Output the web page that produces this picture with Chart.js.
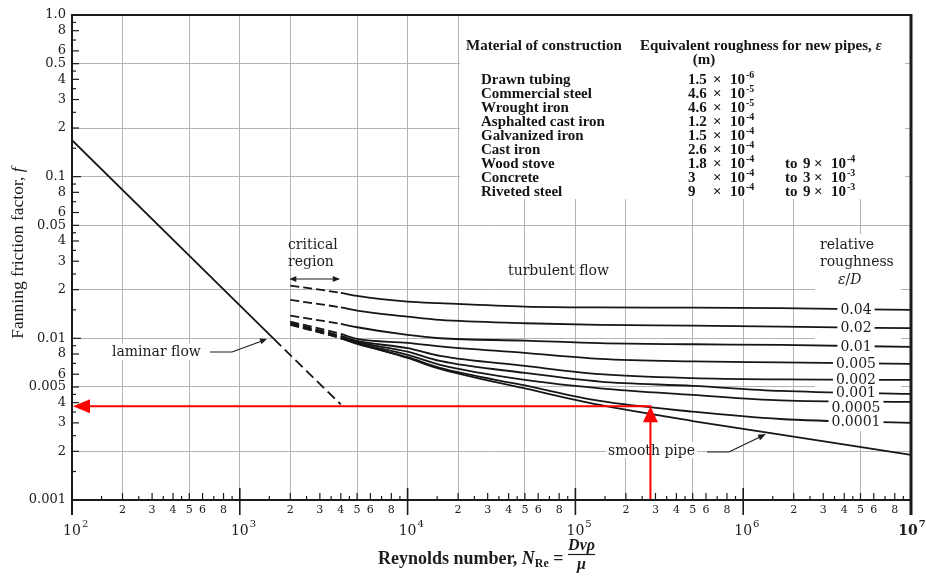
<!DOCTYPE html>
<html>
<head>
<meta charset="utf-8">
<title>Fanning friction factor</title>
<script src="https://cdn.jsdelivr.net/npm/chart.js@4.4.1/dist/chart.umd.min.js"></script>
<style>
  html, body { margin: 0; padding: 0; background: #fff; }
  #wrap { width: 927px; height: 577px; }
</style>
</head>
<body>
<div id="wrap"><canvas id="chart" width="927" height="577"></canvas></div>
<script>
// ---- data ----
const reCurve = [2000, 4000, 5000, 1e4, 1.56e4, 5e4, 1.4e5, 5e5, 1.67e6, 1e7];
const f0040  = [0.02118, 0.01910, 0.01829, 0.01687, 0.01649, 0.01570, 0.01552, 0.01548, 0.01536, 0.01498];
const f0020  = [0.01728, 0.01553, 0.01484, 0.01362, 0.01299, 0.01240, 0.01210, 0.01198, 0.01181, 0.01155];
const f0010  = [0.01381, 0.01227, 0.01171, 0.01049, 0.01001, 0.00968, 0.00933, 0.00919, 0.00910, 0.00885];
const f0005  = [0.01268, 0.01064, 0.00992, 0.00937, 0.00891, 0.00812, 0.00746, 0.00720, 0.00710, 0.00695];
const f0002  = [0.01245, 0.01035, 0.00964, 0.00869, 0.00778, 0.00675, 0.00600, 0.00567, 0.00557, 0.00553];
const f0001  = [0.01227, 0.01020, 0.00950, 0.00827, 0.00725, 0.00611, 0.00540, 0.00508, 0.00473, 0.00453];
const f00005 = [0.01219, 0.01006, 0.00937, 0.00790, 0.00685, 0.00553, 0.00491, 0.00447, 0.00413, 0.00404];
const f00001 = [0.01210, 0.00999, 0.00923, 0.00764, 0.00656, 0.00511, 0.00410, 0.00352, 0.00317, 0.00300];
const roughLabels = ['0.04', '0.02', '0.01', '0.005', '0.002', '0.001', '0.0005', '0.0001'];
const roughCurves = [f0040, f0020, f0010, f0005, f0002, f0001, f00005, f00001];

const reSmooth = [4000, 1e4, 1.56e4, 5e4, 1.4e5, 5e5, 1.67e6, 1e7];
const fSmooth  = [0.00998, 0.00756, 0.00647, 0.00490, 0.00387, 0.00308, 0.00254, 0.00190];

const reLaminar = [100, 1600, 4000];
const fLaminar  = [0.168, 0.0099, 0.0039];

const criticalEnd = 4000;   // dashed part of the curves ends here
const labelRe = 4.7e6;      // where the roughness labels sit
const readRe = 2.8e5;       // red reading arrows
const readF = 0.0038;

// tick layout
const xDecades = [100, 1e3, 1e4, 1e5, 1e6, 1e7];
const yDecades = [0.001, 0.01, 0.1, 1];
const tickMant = [1, 1.5, 2, 2.5, 3, 3.5, 4, 4.5, 5, 6, 7, 8, 9];
const labeledMant = [2, 3, 4, 5, 6, 8];
const gridMant = [1, 2, 5];

// table
const materials = ['Drawn tubing', 'Commercial steel', 'Wrought iron', 'Asphalted cast iron',
  'Galvanized iron', 'Cast iron', 'Wood stove', 'Concrete', 'Riveted steel'];
const roughMant = ['1.5', '4.6', '4.6', '1.2', '1.5', '2.6', '1.8', '3', '9'];
const roughExp  = [-6, -5, -5, -4, -4, -4, -4, -4, -4];
const roughToMant = [null, null, null, null, null, null, '9', '3', '9'];
const roughToExp  = [null, null, null, null, null, null, -4, -3, -3];

// ---- helpers ----
function mant(v) {
  const e = Math.floor(Math.log10(v) + 1e-9);
  return Math.round(v / Math.pow(10, e) * 10) / 10;
}
function tickList(decades) {
  const out = [];
  for (let i = 0; i < decades.length - 1; i++) {
    tickMant.forEach(m => out.push(m * decades[i]));
  }
  out.push(decades[decades.length - 1]);
  return out;
}
function fAt(res, fs, re) {
  for (let i = 0; i < res.length - 1; i++) {
    if (re >= res[i] && re <= res[i + 1]) {
      const t = (Math.log10(re) - Math.log10(res[i])) / (Math.log10(res[i + 1]) - Math.log10(res[i]));
      return Math.pow(10, Math.log10(fs[i]) + t * (Math.log10(fs[i + 1]) - Math.log10(fs[i])));
    }
  }
  return fs[fs.length - 1];
}
function txt(ctx, s, x, y, font, align) {
  ctx.font = font;
  ctx.textAlign = align || 'left';
  ctx.fillText(s, x, y);
  return ctx.measureText(s).width;
}
function rich(ctx, parts, x, y) {
  let cx = x;
  parts.forEach(p => {
    ctx.font = p.font;
    ctx.textAlign = 'left';
    ctx.fillText(p.t, cx, y + (p.dy || 0));
    cx += ctx.measureText(p.t).width;
  });
  return cx;
}
function richWidth(ctx, parts) {
  let w = 0;
  parts.forEach(p => { ctx.font = p.font; w += ctx.measureText(p.t).width; });
  return w;
}
function head(ctx, tx, ty, ang, len, half) {
  const c = Math.cos(ang), s = Math.sin(ang);
  ctx.beginPath();
  ctx.moveTo(tx, ty);
  ctx.lineTo(tx - len * c + half * s, ty - len * s - half * c);
  ctx.lineTo(tx - len * c - half * s, ty - len * s + half * c);
  ctx.closePath();
  ctx.fill();
}
function seg(ctx, x1, y1, x2, y2) {
  ctx.beginPath(); ctx.moveTo(x1, y1); ctx.lineTo(x2, y2); ctx.stroke();
}

const SERIF = '"DejaVu Serif"';
const TIMES = '"Liberation Serif"';
const ANNO = '14px ' + SERIF;
const TB = 'bold 15px ' + TIMES;
const INK = '#1c1c1c';

function powTen(ctx, x, y, e) {
  txt(ctx, '\u00d7', x, y, TB);
  const w = txt(ctx, '10', x + 17, y, TB);
  txt(ctx, '-' + Math.abs(e), x + 18 + w, y - 5, 'bold 10px ' + TIMES);
}

// ---- drawing plugin: table, labels, notes, frame ----
const notes = {
  id: 'notes',
  beforeDatasetsDraw(chart) {
    const ctx = chart.ctx;
    ctx.save();
    ctx.fillStyle = '#fff';
    ctx.fillRect(460, 16, 445, 183);     // materials table
    ctx.fillRect(815, 234, 86, 197);     // roughness label column
    ctx.restore();
  },
  afterDatasetsDraw(chart) {
    const ctx = chart.ctx;
    const xs = chart.scales.x, ys = chart.scales.y;
    const {left, right, top, bottom} = chart.chartArea;
    ctx.save();
    ctx.textBaseline = 'middle';

    // roughness labels sitting on their curves: gaps first, then text
    const lx = xs.getPixelForValue(labelRe);
    ctx.font = ANNO;
    const spots = roughLabels.map((lab, i) => {
      const lineY = ys.getPixelForValue(fAt(reCurve, roughCurves[i], labelRe));
      const ty = lab === '0.0005' ? lineY + 6 : lineY;
      return {lab, lineY, ty, w: ctx.measureText(lab).width};
    });
    ctx.fillStyle = '#fff';
    spots.forEach(s => {
      const y1 = s.ty > s.lineY ? s.lineY - 2 : s.lineY - 6;
      const y2 = s.ty + 6;
      ctx.fillRect(lx - s.w / 2 - 3, y1, s.w + 6, y2 - y1);
    });
    ctx.fillStyle = INK;
    spots.forEach(s => txt(ctx, s.lab, lx, s.ty + 1, ANNO, 'center'));

    ctx.strokeStyle = INK;
    ctx.lineWidth = 1.2;

    // relative roughness heading
    txt(ctx, 'relative', 820, 245, ANNO);
    txt(ctx, 'roughness', 820, 262, ANNO);
    rich(ctx, [{t: '\u03b5', font: 'italic 14px ' + SERIF}, {t: '/', font: ANNO},
      {t: 'D', font: 'italic 14px ' + SERIF}], 838, 280);

    // critical region
    txt(ctx, 'critical', 288, 245, ANNO);
    txt(ctx, 'region', 288, 262, ANNO);
    const cx1 = xs.getPixelForValue(2000), cx2 = xs.getPixelForValue(criticalEnd);
    seg(ctx, cx1 + 2, 279, cx2 - 2, 279);
    head(ctx, cx1 - 1, 279, Math.PI, 7, 3);
    head(ctx, cx2 - 1, 279, 0, 7, 3);

    txt(ctx, 'turbulent flow', 508, 271, ANNO);

    // laminar flow note
    ctx.font = ANNO;
    let w = ctx.measureText('laminar flow').width;
    ctx.fillStyle = '#fff';
    ctx.fillRect(110, 344, w + 4, 16);
    ctx.fillStyle = INK;
    txt(ctx, 'laminar flow', 112, 352, ANNO);
    ctx.beginPath();
    ctx.moveTo(210, 352); ctx.lineTo(232, 352); ctx.lineTo(262, 341);
    ctx.stroke();
    head(ctx, 267, 339, Math.atan2(-11, 30), 7, 3);

    // smooth pipe note
    w = ctx.measureText('smooth pipe').width;
    ctx.fillStyle = '#fff';
    ctx.fillRect(606, 442, w + 4, 16);
    ctx.fillStyle = INK;
    txt(ctx, 'smooth pipe', 608, 451, ANNO);
    ctx.beginPath();
    ctx.moveTo(707, 452); ctx.lineTo(729, 452); ctx.lineTo(760, 437);
    ctx.stroke();
    head(ctx, 766, 434, Math.atan2(-15, 31), 8, 3);

    // materials table
    ctx.fillStyle = '#151515';
    txt(ctx, 'Material of construction', 466, 46, TB);
    const hw = txt(ctx, 'Equivalent roughness for new pipes, ', 640, 46, TB);
    txt(ctx, '\u03b5', 640 + hw, 46, 'bold italic 15px ' + TIMES);
    txt(ctx, '(m)', 704, 60, TB, 'center');
    materials.forEach((m, i) => {
      const y = 80 + i * 14;
      txt(ctx, m, 481, y, TB);
      txt(ctx, roughMant[i], 688, y, TB);
      powTen(ctx, 713, y, roughExp[i]);
      if (roughToMant[i]) {
        txt(ctx, 'to', 785, y, TB);
        txt(ctx, roughToMant[i], 803, y, TB);
        powTen(ctx, 814, y, roughToExp[i]);
      }
    });

    // red reading arrows
    const rx = xs.getPixelForValue(readRe), ry = ys.getPixelForValue(readF);
    ctx.strokeStyle = '#ff0000';
    ctx.fillStyle = '#ff0000';
    ctx.lineWidth = 2;
    seg(ctx, rx + 1, ry, left + 16, ry);
    head(ctx, left + 1, ry, Math.PI, 17, 7);
    seg(ctx, rx, bottom + 1, rx, ry + 15);
    head(ctx, rx, ry, -Math.PI / 2, 16, 7.5);

    // frame
    ctx.strokeStyle = '#1a1a1a';
    ctx.lineWidth = 2;
    seg(ctx, left - 1, top, right + 1, top);
    seg(ctx, left - 1, bottom, right + 1, bottom);
    seg(ctx, left, top - 1, left, bottom + 15);
    ctx.lineWidth = 3;
    seg(ctx, right, top - 1, right, bottom + 15);

    // inward ticks
    ctx.lineWidth = 1.2;
    xs.ticks.forEach(t => {
      const x = xs.getPixelForValue(t.value), m = mant(t.value);
      if (m === 1) { ctx.lineWidth = 1.6; seg(ctx, x, bottom - 12, x, bottom + 15); ctx.lineWidth = 1.2; }
      else if (labeledMant.includes(m)) seg(ctx, x, bottom - 7, x, bottom);
      else seg(ctx, x, bottom - 4, x, bottom);
    });
    ys.ticks.forEach(t => {
      const y = ys.getPixelForValue(t.value), m = mant(t.value);
      if (m === 1) seg(ctx, left, y, left + 9, y);
      else if (labeledMant.includes(m)) seg(ctx, left, y, left + 7, y);
      else seg(ctx, left, y, left + 4, y);
    });

    // decade labels under the x axis
    ctx.fillStyle = INK;
    xDecades.forEach(d => {
      const last = d === xDecades[xDecades.length - 1];
      const x = xs.getPixelForValue(d) - (last ? 3 : 0);
      const e = Math.round(Math.log10(d));
      const bw = txt(ctx, '10', x, 531, (last ? 'bold 14px ' : '14px ') + SERIF, 'center');
      txt(ctx, String(e), x + bw / 2 + 1, 524, (last ? 'bold 10px ' : '10px ') + SERIF);
    });

    // x axis title
    const tf = 'bold 18px ' + TIMES;
    const ex = rich(ctx, [
      {t: 'Reynolds number, ', font: tf},
      {t: 'N', font: 'bold italic 18px ' + TIMES},
      {t: 'Re', font: 'bold 12px ' + TIMES, dy: 5},
      {t: ' = ', font: tf}
    ], 378, 559);
    const num = [{t: 'Dv\u03c1', font: 'bold italic 16px ' + TIMES}];
    const nw = richWidth(ctx, num);
    rich(ctx, num, ex, 546);
    ctx.strokeStyle = INK;
    ctx.lineWidth = 1.2;
    seg(ctx, ex, 554.5, ex + nw, 554.5);
    txt(ctx, '\u03bc', ex + nw / 2, 565, 'bold italic 16px ' + TIMES, 'center');

    // y axis title
    ctx.translate(18, 253);
    ctx.rotate(-Math.PI / 2);
    const yt = [{t: 'Fanning friction factor, ', font: '17.5px ' + TIMES},
      {t: 'f', font: 'italic 17.5px ' + TIMES}];
    rich(ctx, yt, -richWidth(ctx, yt) / 2, 0);
    ctx.restore();
  }
};

// ---- datasets ----
const dashAfter = (limit) => ({ borderDash: c => (c.p1.parsed.x <= limit ? [9, 4] : undefined) });

const datasets = roughCurves.map((arr, i) => ({
  label: '\u03b5/D = ' + roughLabels[i],
  data: reCurve.map((re, j) => ({x: re, y: arr[j]})),
  showLine: true,
  borderColor: '#161616',
  borderWidth: 1.8,
  pointRadius: 0,
  cubicInterpolationMode: 'monotone',
  segment: dashAfter(criticalEnd)
}));
datasets.push({
  label: 'smooth pipe',
  data: reSmooth.map((re, j) => ({x: re, y: fSmooth[j]})),
  showLine: true,
  borderColor: '#161616',
  borderWidth: 1.8,
  pointRadius: 0,
  cubicInterpolationMode: 'monotone'
});
datasets.push({
  label: 'laminar flow',
  data: reLaminar.map((re, j) => ({x: re, y: fLaminar[j]})),
  showLine: true,
  borderColor: '#161616',
  borderWidth: 1.8,
  pointRadius: 0,
  tension: 0,
  segment: { borderDash: c => (c.p0.parsed.x >= reLaminar[1] ? [10, 5] : undefined) }
});

const gridColor = c => (c.tick && gridMant.includes(mant(c.tick.value)) ? '#b4b4b4' : 'rgba(0,0,0,0)');

new Chart(document.getElementById('chart'), {
  type: 'scatter',
  data: { datasets: datasets },
  options: {
    responsive: false,
    animation: false,
    events: [],
    devicePixelRatio: 1,
    layout: { padding: { left: 0, top: 15, right: 16, bottom: 0 } },
    plugins: { legend: { display: false }, tooltip: { enabled: false } },
    scales: {
      x: {
        type: 'logarithmic',
        min: 100,
        max: 1e7,
        afterBuildTicks: s => { s.ticks = tickList(xDecades).map(v => ({value: v})); },
        afterFit: s => { s.height = 77; },
        border: { display: false },
        grid: { color: gridColor, lineWidth: 1, drawTicks: false },
        ticks: {
          autoSkip: false, maxRotation: 0, minRotation: 0, padding: 4,
          color: INK, font: { family: 'DejaVu Serif', size: 11 },
          callback: v => { const m = mant(v); return labeledMant.includes(m) ? String(m) : ''; }
        }
      },
      y: {
        type: 'logarithmic',
        min: 0.001,
        max: 1,
        afterBuildTicks: s => { s.ticks = tickList(yDecades).map(v => ({value: v})); },
        afterFit: s => { s.width = 72; },
        border: { display: false },
        grid: { color: gridColor, lineWidth: 1, drawTicks: false },
        ticks: {
          autoSkip: false, padding: 6,
          color: INK, font: { family: 'DejaVu Serif', size: 13 },
          callback: v => {
            const m = mant(v);
            if (m === 1) return v >= 1 ? '1.0' : String(Number(v.toPrecision(2)));
            if (m === 5) return String(Number(v.toPrecision(2)));
            return labeledMant.includes(m) ? String(m) : '';
          }
        }
      }
    }
  },
  plugins: [notes]
});
</script>
</body>
</html>
